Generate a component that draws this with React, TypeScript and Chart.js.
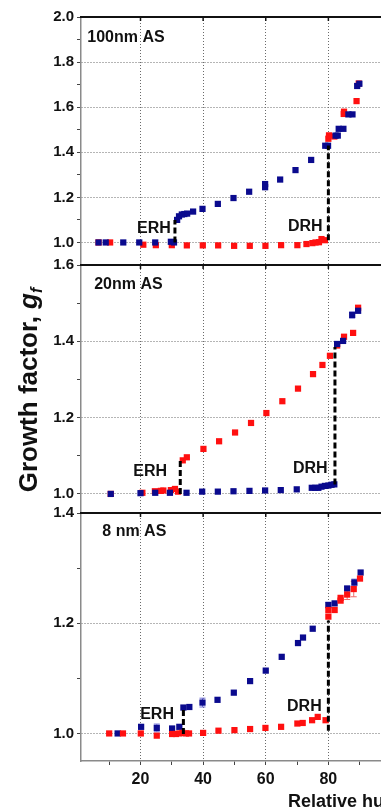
import React, { useEffect, useRef } from 'react';
import { Chart, registerables } from 'chart.js';

Chart.register(...registerables);

// ---------- data ----------
const X_MIN = 1;
const X_MAX = 100;
const X_TICKS = [10, 20, 30, 40, 50, 60, 70, 80, 90];
const X_LABELED = [20, 40, 60, 80];

// panel A: 100 nm AS
const blueA_rh = [6.6, 8.9, 14.5, 19.6, 24.7, 29.7, 30.7, 31.7, 32.3, 33.2, 34.0, 34.9, 36.8, 39.8, 44.7, 49.7, 54.7, 59.8, 59.8, 64.6, 69.5, 74.5, 79.0, 79.9, 82.3, 83.0, 83.3, 84.8, 86.4, 87.7, 89.2, 89.9];
const blueA_gf = [1.0, 1.0, 1.0, 1.0, 1.0, 1.003, 1.0, 1.10, 1.116, 1.124, 1.126, 1.128, 1.137, 1.149, 1.171, 1.197, 1.225, 1.259, 1.245, 1.279, 1.321, 1.366, 1.429, 1.429, 1.474, 1.474, 1.504, 1.504, 1.568, 1.568, 1.694, 1.704];
const redA_rh = [6.6, 10.3, 20.9, 24.9, 30.0, 34.8, 39.9, 44.8, 49.9, 54.9, 59.9, 64.9, 70.1, 73.0, 74.9, 75.9, 77.0, 77.8, 78.9, 80.0, 80.2, 81.9, 84.9, 85.0, 89.0, 89.7];
const redA_gf = [1.0, 1.0, 0.99, 0.988, 0.988, 0.987, 0.987, 0.987, 0.985, 0.985, 0.985, 0.988, 0.988, 0.993, 0.997, 1.0, 1.001, 1.015, 1.01, 1.46, 1.475, 1.47, 1.57, 1.58, 1.627, 1.705];

// panel B: 20 nm AS
const blueB_rh = [10.5, 20.0, 24.7, 29.4, 34.7, 39.7, 44.7, 49.7, 54.8, 59.8, 64.8, 69.9, 74.7, 75.8, 76.8, 77.8, 78.9, 80.0, 81.0, 81.9, 82.8, 84.7, 87.6, 89.5];
const blueB_gf = [1.0, 1.002, 1.003, 1.003, 1.003, 1.006, 1.006, 1.007, 1.008, 1.009, 1.01, 1.012, 1.016, 1.016, 1.016, 1.019, 1.021, 1.022, 1.024, 1.025, 1.393, 1.401, 1.469, 1.48];
const blueB_err = [0, 0, 0, 0, 0, 0, 0, 0, 0, 0, 0, 0, 0, 0, 0, 0, 0, 0, 0, 0, 0, 0, 0.008, 0];
const redB_rh = [10.5, 20.6, 24.6, 26.5, 27.3, 29.7, 31.0, 32.0, 33.5, 34.8, 40.1, 45.1, 50.2, 55.3, 60.2, 65.3, 70.3, 75.1, 78.1, 80.5, 82.8, 85.0, 87.9, 89.5];
const redB_gf = [1.0, 1.003, 1.007, 1.008, 1.009, 1.01, 1.013, 1.006, 1.088, 1.096, 1.118, 1.138, 1.161, 1.186, 1.212, 1.243, 1.276, 1.314, 1.338, 1.362, 1.389, 1.412, 1.422, 1.488];

// panel C: 8 nm AS
const blueC_rh = [12.7, 20.2, 25.2, 30.1, 32.4, 33.7, 35.6, 39.8, 44.6, 49.8, 55.0, 60.0, 65.1, 70.3, 71.9, 75.0, 80.0, 82.0, 86.0, 88.3, 90.3];
const blueC_gf = [1.0, 1.012, 1.01, 1.009, 1.012, 1.047, 1.048, 1.056, 1.061, 1.074, 1.095, 1.114, 1.139, 1.164, 1.174, 1.19, 1.233, 1.236, 1.263, 1.274, 1.292];
const blueC_err = [0, 0, 0.007, 0, 0, 0, 0, 0.008, 0, 0, 0, 0, 0, 0, 0, 0, 0.005, 0, 0.004, 0.006, 0];
const redC_rh = [10.0, 14.4, 20.1, 25.2, 30.1, 31.3, 32.4, 33.4, 34.5, 35.5, 40.0, 44.9, 50.0, 55.0, 59.9, 64.9, 70.1, 71.8, 74.8, 76.6, 79.1, 80.0, 80.0, 82.0, 83.9, 83.9, 86.0, 88.1, 90.1];
const redC_gf = [1.0, 1.0, 1.0, 0.996, 0.999, 0.999, 1.0, 1.001, 1.0, 1.0, 1.001, 1.005, 1.006, 1.008, 1.01, 1.012, 1.018, 1.019, 1.024, 1.03, 1.024, 1.224, 1.212, 1.224, 1.241, 1.246, 1.252, 1.262, 1.281];
const redC_err = [0, 0, 0, 0, 0, 0, 0, 0, 0, 0, 0, 0, 0, 0, 0, 0, 0, 0, 0, 0, 0, 0, 0, 0, 0, 0, 0.009, 0.014, 0];

// panel y ranges [min, max]
const rangeA = [0.9, 2.0];
const rangeB = [0.95, 1.6];
const rangeC = [0.95, 1.4];

// ERH / DRH dashed markers: [rh, gfLow, gfHigh]
const erhA = [31.0, 1.0, 1.10];
const drhA = [80.0, 1.01, 1.43];
const erhB = [32.7, 1.0, 1.09];
const drhB = [82.1, 1.025, 1.385];
const erhC = [33.7, 0.999, 1.043];
const drhC = [80.0, 1.005, 1.205];

// text labels: [text, rh, gf, axis]
const labels: [string, number, number, string][] = [
  ['100nm AS', 3.0, 1.889, 'yA'],
  ['ERH', 18.9, 1.04, 'yA'],
  ['DRH', 67.1, 1.053, 'yA'],
  ['20nm AS', 5.2, 1.537, 'yB'],
  ['ERH', 17.7, 1.047, 'yB'],
  ['DRH', 68.7, 1.055, 'yB'],
  ['8 nm AS', 7.8, 1.359, 'yC'],
  ['ERH', 19.9, 1.026, 'yC'],
  ['DRH', 66.8, 1.041, 'yC'],
];

const Y_TITLE = 'Growth factor, ';
const X_TITLE = 'Relative humidity (%)';

// ---------- styling ----------
const FONT = '"Liberation Sans", Arial, sans-serif';
const BLUE = '#0a0a8e';
const RED = '#ff1010';
const BLUE_ERR = '#6f6fd6';
const RED_ERR = '#f06a6a';

const pts = (xs: number[], ys: number[]) => xs.map((x, i) => ({ x, y: ys[i] }));

function scatterSet(xs: number[], ys: number[], color: string, axis: string, errs?: number[], errColor?: string) {
  return {
    type: 'scatter' as const,
    data: pts(xs, ys),
    yAxisID: axis,
    backgroundColor: color,
    borderWidth: 0,
    pointStyle: 'rect',
    pointRadius: 4.4,
    showLine: false,
    errs,
    errColor,
  };
}

function dashSet(m: number[], axis: string) {
  return {
    type: 'line' as const,
    data: [{ x: m[0], y: m[1] }, { x: m[0], y: m[2] }],
    yAxisID: axis,
    borderColor: '#000',
    borderWidth: 3,
    borderDash: [6, 3],
    pointRadius: 0,
    showLine: true,
    fill: false,
  };
}

const isMajor = (v: number) => Math.abs(Math.round(v * 10) % 2) === 0;

function yScale(range: number[]) {
  const [min, max] = range;
  return {
    type: 'linear',
    position: 'left',
    stack: 'panels',
    stackWeight: 1,
    min,
    max,
    afterBuildTicks: (s: any) => {
      const t: any[] = [];
      for (let k = Math.ceil(min * 10 - 1e-6); k <= Math.floor(max * 10 + 1e-6); k++) t.push({ value: k / 10 });
      s.ticks = t;
    },
    afterFit: (s: any) => {
      s.width = 81;
    },
    ticks: {
      autoSkip: false,
      padding: 3,
      color: '#111',
      font: { family: FONT, size: 15, weight: 'bold' },
      callback: (v: any) => {
        const n = Number(v);
        if (n < min + 1e-6 && Math.abs(n - 1.0) > 1e-6) return '';
        return isMajor(n) ? n.toFixed(1) : '';
      },
    },
    grid: {
      color: (ctx: any) => {
        const v = ctx.tick ? ctx.tick.value : 0;
        if (!isMajor(v) || Math.abs(v - max) < 1e-6 || Math.abs(v - min) < 1e-6) return 'rgba(0,0,0,0)';
        return '#6a6a6a';
      },
      lineWidth: 1,
      tickLength: 4,
      tickColor: (ctx: any) => {
        const v = ctx.tick ? ctx.tick.value : 0;
        return Math.abs(v - min) < 1e-6 ? 'rgba(0,0,0,0)' : '#444';
      },
      borderDash: [1, 2],
    },
    border: { color: '#8a8a8a', width: 1.5, dash: [1, 2] },
  };
}

const decorPlugin = {
  id: 'decor',
  beforeDatasetsDraw(chart: any) {
    const ctx = chart.ctx;
    const xs = chart.scales.x;
    ctx.save();
    chart.data.datasets.forEach((ds: any) => {
      if (!ds.errs) return;
      const ys = chart.scales[ds.yAxisID];
      ctx.strokeStyle = ds.errColor;
      ctx.lineWidth = 1;
      ds.data.forEach((p: any, i: number) => {
        const e = ds.errs[i];
        if (!e) return;
        const px = xs.getPixelForValue(p.x);
        const y1 = ys.getPixelForValue(p.y - e);
        const y2 = ys.getPixelForValue(p.y + e);
        ctx.beginPath();
        ctx.moveTo(px, y1);
        ctx.lineTo(px, y2);
        ctx.moveTo(px - 3, y1);
        ctx.lineTo(px + 3, y1);
        ctx.moveTo(px - 3, y2);
        ctx.lineTo(px + 3, y2);
        ctx.stroke();
      });
    });
    ctx.restore();
  },
  afterDraw(chart: any) {
    const ctx = chart.ctx;
    const area = chart.chartArea;
    const xs = chart.scales.x;
    ctx.save();
    // panel top borders + top tick marks
    ['yA', 'yB', 'yC'].forEach((id) => {
      const s = chart.scales[id];
      ctx.strokeStyle = '#111';
      ctx.lineWidth = 2;
      ctx.beginPath();
      ctx.moveTo(area.left - 1, s.top);
      ctx.lineTo(area.right, s.top);
      ctx.stroke();
      ctx.lineWidth = 1.5;
      X_LABELED.forEach((v) => {
        const px = xs.getPixelForValue(v);
        ctx.beginPath();
        ctx.moveTo(px, s.top);
        ctx.lineTo(px, s.top + 4);
        ctx.stroke();
      });
    });
    // text labels
    ctx.fillStyle = '#111';
    ctx.font = `bold 16px ${FONT}`;
    ctx.textAlign = 'left';
    ctx.textBaseline = 'alphabetic';
    labels.forEach(([t, x, y, id]) => {
      ctx.fillText(t, xs.getPixelForValue(x), chart.scales[id].getPixelForValue(y));
    });
    // y title
    const cy = (chart.scales.yA.top + chart.scales.yC.bottom) / 2 + 1;
    ctx.translate(37, cy);
    ctx.rotate(-Math.PI / 2);
    ctx.font = `bold 26px ${FONT}`;
    const w1 = ctx.measureText(Y_TITLE).width;
    ctx.font = `italic bold 26px ${FONT}`;
    const w2 = ctx.measureText('g').width;
    ctx.font = `italic bold 16px ${FONT}`;
    const w3 = ctx.measureText('f').width;
    let x0 = -(w1 + w2 + w3) / 2;
    ctx.font = `bold 26px ${FONT}`;
    ctx.fillText(Y_TITLE, x0, 0);
    x0 += w1;
    ctx.font = `italic bold 26px ${FONT}`;
    ctx.fillText('g', x0, 0);
    x0 += w2;
    ctx.font = `italic bold 16px ${FONT}`;
    ctx.fillText('f', x0, 5);
    ctx.setTransform(1, 0, 0, 1, 0, 0);
    // x title
    ctx.font = `bold 18px ${FONT}`;
    ctx.fillText(X_TITLE, xs.getPixelForValue(67.1), 807);
    ctx.restore();
  },
};

export default function App() {
  const ref = useRef<HTMLCanvasElement | null>(null);
  useEffect(() => {
    if (!ref.current) return;
    const chart = new Chart(ref.current, {
      type: 'scatter',
      data: {
        datasets: [
          dashSet(erhA, 'yA'),
          dashSet(drhA, 'yA'),
          scatterSet(blueA_rh, blueA_gf, BLUE, 'yA'),
          scatterSet(redA_rh, redA_gf, RED, 'yA'),
          dashSet(erhB, 'yB'),
          dashSet(drhB, 'yB'),
          scatterSet(blueB_rh, blueB_gf, BLUE, 'yB', blueB_err, BLUE_ERR),
          scatterSet(redB_rh, redB_gf, RED, 'yB'),
          dashSet(erhC, 'yC'),
          dashSet(drhC, 'yC'),
          scatterSet(redC_rh, redC_gf, RED, 'yC', redC_err, RED_ERR),
          scatterSet(blueC_rh, blueC_gf, BLUE, 'yC', blueC_err, BLUE_ERR),
        ] as any,
      },
      options: {
        animation: false,
        responsive: false,
        devicePixelRatio: 1,
        layout: { padding: { top: 17, right: 9, left: 0, bottom: 0 } },
        plugins: { legend: { display: false }, tooltip: { enabled: false } },
        scales: {
          x: {
            type: 'linear',
            position: 'bottom',
            min: X_MIN,
            max: X_MAX,
            afterBuildTicks: (s: any) => {
              s.ticks = X_TICKS.map((v) => ({ value: v }));
            },
            afterFit: (s: any) => {
              s.height = 49;
            },
            ticks: {
              autoSkip: false,
              maxRotation: 0,
              padding: 5,
              color: '#111',
              font: { family: FONT, size: 16, weight: 'bold' },
              callback: (v: any) => (X_LABELED.includes(Number(v)) ? String(v) : ''),
            },
            grid: {
              color: (ctx: any) => (ctx.tick && X_LABELED.includes(ctx.tick.value) ? '#6a6a6a' : 'rgba(0,0,0,0)'),
              lineWidth: 1,
              tickLength: 4,
              tickColor: '#444',
              borderDash: [1, 2],
            },
            border: { color: '#8a8a8a', width: 1.5, dash: [1, 2] },
          },
          yC: yScale(rangeC),
          yB: yScale(rangeB),
          yA: yScale(rangeA),
        } as any,
      },
      plugins: [decorPlugin],
    });
    return () => chart.destroy();
  }, []);

  return (
    <div style={{ position: 'absolute', left: 0, top: 0, width: 381, height: 810, overflow: 'hidden', background: '#fff' }}>
      <canvas ref={ref} width={400} height={810} style={{ display: 'block', width: 400, height: 810 }} />
    </div>
  );
}
